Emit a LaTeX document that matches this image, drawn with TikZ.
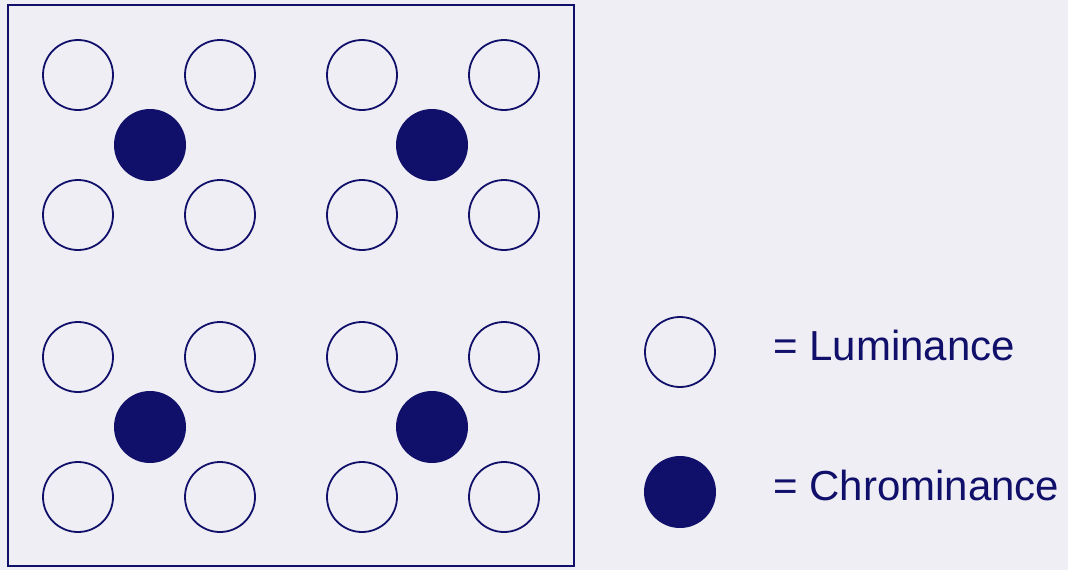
\documentclass[tikz,border=0pt]{standalone}
\usepackage{fontspec}
\setmainfont{Liberation Sans}
\definecolor{navy}{HTML}{10106A}
\definecolor{paper}{HTML}{EFEEF4}
\begin{document}
\begin{tikzpicture}[x=1pt,y=-1pt,
  lum/.style={circle,draw=navy,line width=1.8pt,minimum size=70pt,inner sep=0pt},
  chr/.style={circle,fill=navy,minimum size=72pt,inner sep=0pt},
  lbl/.style={text=navy,font=\fontsize{42}{46}\selectfont,anchor=west,inner sep=0pt}]
\fill[paper] (0,0) rectangle (1068,570);
\useasboundingbox (0,0) rectangle (1068,570);
\node[draw=navy,line width=2pt,minimum width=566pt,minimum height=561pt,inner sep=0pt] (frame) at (291,285.5) {};
\foreach \r/\y in {1/75,2/215,3/357,4/497}{
  \foreach \c/\x in {1/78,2/220,3/362,4/504}{
    \node[lum] (l\r\c) at (\x,\y) {};
  }
}
\node[chr] (c11) at (150,145) {};
\node[chr] (c12) at (432,145) {};
\node[chr] (c21) at (150,427) {};
\node[chr] (c22) at (432,427) {};
\node[lum] (legl) at (680,352) {};
\node[chr] (legc) at (680,492) {};
\node[lbl] (tl) at (773,345) {= Luminance};
\node[lbl] (tc) at (773,485) {= Chrominance};
\end{tikzpicture}
\end{document}
